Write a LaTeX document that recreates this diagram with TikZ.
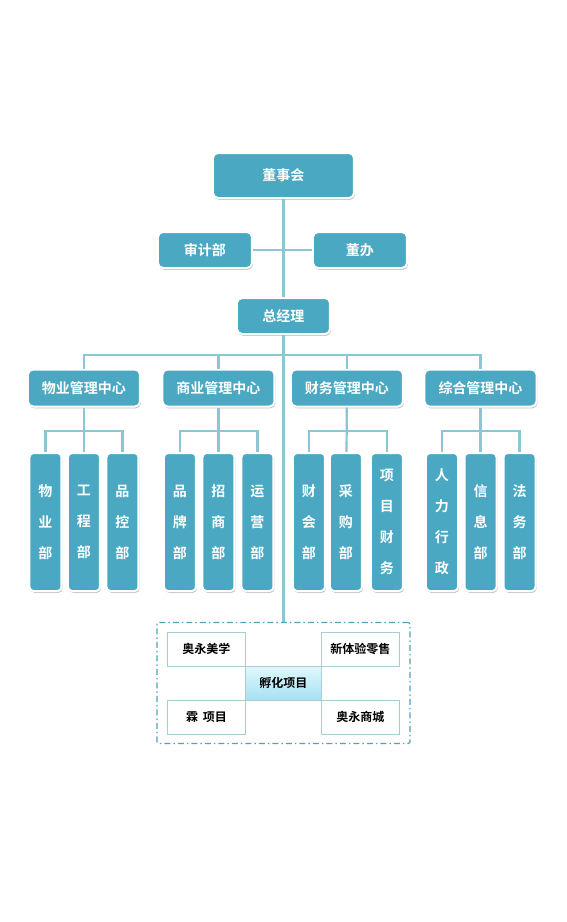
\documentclass[tikz,border=0pt]{standalone}
\usepackage{fontspec}
\setmainfont{Noto Sans CJK SC}[BoldFont={Noto Sans CJK SC Bold}]
\usepackage{tikz}
\usetikzlibrary{shapes.geometric, shadows}
\definecolor{boxblue}{HTML}{4AA8C2}
\definecolor{lineblue}{HTML}{8CC6D4}
\definecolor{dashblue}{HTML}{4FA3BA}
\definecolor{edgegray}{HTML}{A9CDD3}
\definecolor{incubtop}{HTML}{E2F8FD}
\definecolor{incubbot}{HTML}{A4E2F3}
\tikzstyle{head} = [rectangle, rounded corners=5pt, minimum width=141pt, minimum height=45pt, text centered, draw=white, line width=2pt, fill=boxblue, text=white, font=\bfseries\fontsize{14}{17}\selectfont, drop shadow={shadow xshift=1pt, shadow yshift=-1.8pt, opacity=0.45}]
\tikzstyle{unit} = [head, minimum width=94pt, minimum height=36pt]
\tikzstyle{hub} = [head, minimum width=112pt, minimum height=37pt]
\tikzstyle{dept} = [head, rounded corners=4pt, minimum width=32pt, minimum height=138pt, inner sep=0pt, align=center, font=\bfseries\fontsize{14}{31}\selectfont]
\tikzstyle{dashframe} = [rectangle, rounded corners=1.5pt, draw=dashblue, line width=1.2pt, dash pattern=on 6pt off 3pt on 1.5pt off 3pt, minimum width=253pt, minimum height=121pt]
\tikzstyle{proj} = [rectangle, draw=edgegray, line width=0.8pt, fill=white, minimum width=78pt, minimum height=34pt, text centered, font=\bfseries\fontsize{12}{14}\selectfont]
\tikzstyle{incub} = [proj, minimum width=76pt, top color=incubtop, bottom color=incubbot]
\tikzstyle{link} = [line width=2.2pt, draw=lineblue]
\begin{document}
\begin{tikzpicture}[node distance=30pt, x=1pt, y=1pt]
				\path[use as bounding box, fill=white] (-283.5,175.5) rectangle (283.5,-746.5);
				
				\node(top) [head] {董事会};
				\node(aud) [unit, below of=top, xshift=-78.5pt, yshift=-44.5pt] {审计部};
				\node(off) [unit, right of=aud, xshift=125pt] {董办};
				\node(gm) [unit, minimum width=93pt, below of=top, yshift=-110.5pt] {总经理};
				\coordinate[below of=gm, yshift=-9pt] (bus);
				
				\node(c2) [hub, below of=gm, xshift=-65pt, yshift=-42pt] {商业管理中心};
				\node(c1) [hub, left of=c2, xshift=-104.5pt] {物业管理中心};
				\node(c3) [hub, right of=c2, xshift=98.5pt] {财务管理中心};
				\node(c4) [hub, right of=c3, xshift=103.5pt] {综合管理中心};
				\coordinate[below of=c1, yshift=-13pt] (c1b);
				\coordinate[below of=c2, yshift=-13pt] (c2b);
				\coordinate[below of=c3, yshift=-13pt] (c3b);
				\coordinate[below of=c4, yshift=-13pt] (c4b);
				
				\node(c1l1) [dept, below of=c1, xshift=-38.5pt, yshift=-104pt] {物\\业\\部};
				\node(c1l2) [dept, below of=c1, yshift=-104pt] {工\\程\\部};
				\node(c1l3) [dept, below of=c1, xshift=38.5pt, yshift=-104pt] {品\\控\\部};
				\node(c2l1) [dept, below of=c2, xshift=-38.5pt, yshift=-104pt] {品\\牌\\部};
				\node(c2l2) [dept, below of=c2, yshift=-104pt] {招\\商\\部};
				\node(c2l3) [dept, below of=c2, xshift=39pt, yshift=-104pt] {运\\营\\部};
				\node(c3l1) [dept, below of=c3, xshift=-38pt, yshift=-104pt] {财\\会\\部};
				\node(c3l2) [dept, below of=c3, xshift=-1pt, yshift=-104pt] {采\\购\\部};
				\node(c3l3) [dept, below of=c3, xshift=40pt, yshift=-104pt] {项\\目\\财\\务};
				\node(c4l1) [dept, below of=c4, xshift=-38.5pt, yshift=-104pt] {人\\力\\行\\政};
				\node(c4l2) [dept, below of=c4, yshift=-104pt] {信\\息\\部};
				\node(c4l3) [dept, below of=c4, xshift=39pt, yshift=-104pt] {法\\务\\部};
				
				\node(inc) [incub, below of=gm, yshift=-337pt] {孵化项目};
				\node(zone) [dashframe] at (inc) {};
				\node(p1) [proj, above of=inc, xshift=-77pt, yshift=4pt] {奥永美学};
				\node(p2) [proj, above of=inc, xshift=77pt, yshift=4pt] {新体验零售};
				\node(p3) [proj, below of=inc, xshift=-77pt, yshift=-4pt] {霖\hspace{.4em}项目};
				\node(p4) [proj, below of=inc, xshift=77pt, yshift=-4pt] {奥永商城};
				
				\draw[link] (top) -- (gm);
				\draw[link] (aud) -- (off);
				\draw[link] (gm) -- (zone);
				\draw[link] (c1) |- (bus) -| (c4);
				\draw[link] (c2) -- (c2 |- bus);
				\draw[link] (c3) -- (c3 |- bus);
				\draw[link] (c1) -- (c1l2);
				\draw[link] (c1l1) |- (c1b) -| (c1l3);
				\draw[link] (c2) -- (c2l2);
				\draw[link] (c2l1) |- (c2b) -| (c2l3);
				\draw[link] (c3) -- (c3l2);
				\draw[link] (c3l1) |- (c3b) -| (c3l3);
				\draw[link] (c4) -- (c4l2);
				\draw[link] (c4l1) |- (c4b) -| (c4l3);
				
			\end{tikzpicture}
\end{document}
